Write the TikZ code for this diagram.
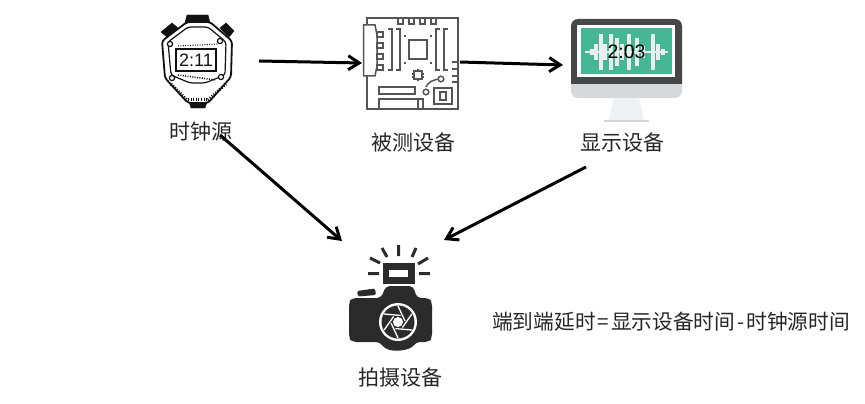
\documentclass[tikz,border=0pt]{standalone}
\usepackage{fontspec}
\setmainfont{Noto Sans CJK SC}
\newfontfamily\latinf{Liberation Sans}
\usetikzlibrary{arrows.meta}
\definecolor{ink}{HTML}{111111}
\definecolor{boardc}{HTML}{555555}
\definecolor{mondark}{HTML}{454748}
\definecolor{monlight}{HTML}{D5D9DB}
\definecolor{monstand}{HTML}{EEF1F3}
\definecolor{monbase}{HTML}{D3D7D9}
\definecolor{mongreen}{HTML}{45B795}
\definecolor{wave}{HTML}{E9EEEE}
\definecolor{camc}{HTML}{2B2B2B}
\tikzset{
 lbl/.style={inner sep=0pt,font=\fontsize{21}{24}\selectfont,text=black!85},
 conn/.style={line width=3pt,black,-{Straight Barb[length=11pt,width=14pt,line width=3pt]}},
 wv/.style={line width=3.4pt,wave},
 brd/.style={line width=1.5pt,boardc,fill=white},
 wat/.style={line width=1.2pt,ink},
}
\begin{document}
\begin{tikzpicture}[x=1pt,y=-1pt]
\useasboundingbox (0,0) rectangle (865,404);
% stopwatch
\filldraw[ink] (185,23)--(187,15)--(208,15)--(210,23)--cycle;
\filldraw[ink] (161,32)--(172,23)--(178,28)--(167,37)--cycle;
\filldraw[ink] (220,28)--(226,23)--(234,31)--(229,37)--cycle;
\filldraw[ink] (189,102)--(207,102)--(205,108)--(191,108)--cycle;
\draw[wat,line width=1.8pt,rounded corners=3pt,fill=white] (187,22)--(210,22)--(232,41)--(231,77)--(208,103)--(188,103)--(165,78)--(162,41)--cycle;
\draw[wat,rounded corners=3pt] (188,27)--(208,27)--(226,42)--(225,75)--(205,83)--(190,83)--(171,75)--(168,42)--cycle;
\draw[wat,line width=1.4pt] (176,49) rectangle (216,71);
\node[inner sep=0pt,font=\latinf\fontsize{18}{18}\selectfont,text=ink] (wtime) at (196,60) {2:11};
\foreach \p in {(170,44),(220,41),(172,78),(221,77)} \draw[wat,fill=white] \p circle (2.6);
\draw[line width=1pt,ink,dash pattern=on 1pt off 1.4pt] (178,46)--(218,44);
\draw[line width=1.5pt,ink,dash pattern=on 1pt off 1.4pt] (178,75)--(216,80);
\draw[line width=3pt,ink,dash pattern=on 1pt off 1.6pt] (171,84)--(187,100);
\draw[line width=3pt,ink,dash pattern=on 1pt off 1.6pt] (188,99)--(208,99);
\draw[line width=3pt,ink,dash pattern=on 1pt off 1.6pt] (208,100)--(226,84);
\node[lbl] (clock) at (201,131.5) {时钟源};
% board
\draw[brd,fill=none] (367,18) rectangle (458,109);
\foreach \x in {398,409,420,431} \draw[brd] (\x,18) rectangle (\x+5,24);
\draw[brd] (363.5,25)--(375,25)--(377,35)--(377,66)--(375,76)--(363.5,76)--cycle;
\foreach \y in {32,43,54,65} \draw[brd] (377,\y) rectangle (383,\y+5);
\draw[brd,fill=none] (388,29)--(392,29)--(392,70)--(388,70);
\draw[brd,fill=none] (396,29)--(400,29)--(400,70)--(396,70);
\draw[brd,fill=none] (440,29)--(436,29)--(436,70)--(440,70);
\draw[brd,fill=none] (448,29)--(444,29)--(444,70)--(448,70);
\draw[brd,fill=none] (409,40) rectangle (427,59);
\foreach \p/\q in {405/35,431/35,405/62,431/62} \draw[brd,fill=none] (\p,\q)--(\p,\q+2);
\draw[brd,fill=none] (414,71) rectangle (422,79);
\draw[brd,fill=none] (418,69)--(418,71) (418,79)--(418,81) (412,74)--(414,74) (412,77)--(414,77) (422,74)--(424,74) (422,77)--(424,77);
\foreach \y in {62,69,76,82} \draw[brd,fill=none] (452,\y)--(458,\y);
\draw[brd,fill=none] (379,87) rectangle (415,94);
\draw[brd,fill=none] (379,109)--(379,99)--(423,99)--(423,109) (418,99)--(418,109);
\draw[brd,fill=none] (426,87)..controls (428,82) and (434,79) .. (441,79);
\draw[brd] (426,92) circle (2.8);
\draw[brd] (441,79) circle (2.8);
\draw[brd,fill=none] (434,88) rectangle (452,104);
\draw[brd,fill=none] (440,92) rectangle (446,100);
\node[lbl] (dut) at (413,143) {被测设备};
% monitor
\fill[monlight,rounded corners=7pt] (571,50) rectangle (682,98);
\fill[monstand] (614,98)--(639,98)--(644,120)--(609,120)--cycle;
\fill[monbase] (604,120) rectangle (649,122);
\fill[mondark] (571,84)--(571,26) arc[start angle=180,end angle=270,radius=7]--(675,19) arc[start angle=270,end angle=360,radius=7]--(682,84)--cycle;
\fill[white] (577,25) rectangle (675,77);
\fill[mongreen] (581,28) rectangle (672,74);
\foreach \x/\h in {587/1,592/3,596/8,601/18,605/8,611/18,617/14,622/8,629/18,637/14,643/6,653/18,658/8,663/3}
  \draw[wv] (\x,52-\h)--(\x,52+\h);
\draw[wv,line width=2pt] (585,52)--(668,52);
\node[inner sep=0pt,font=\latinf\fontsize{19.5}{19.5}\selectfont,text=black] (mtime) at (626.5,52) {2:03};
\node[lbl] (disp) at (622,143) {显示设备};
% camera
\draw[camc,line width=3pt]
 (368,273.5)--(379,273.5) (419,273.5)--(430,273.5)
 (370,258)--(380,263) (428,258)--(418,264)
 (382,248)--(387,257) (416,248)--(412,257)
 (398.5,245)--(398.5,256);
\fill[camc] (383,263) rectangle (415,284);
\fill[white] (389,270) rectangle (408,277);
\fill[camc,rounded corners=1.5pt] (357,291)--(375,288.5)--(376,295)--(358,296.5)--cycle;
\fill[camc,rounded corners=4pt] (349,302)--(352,298)--(381,298)--(386,286)--(413,286)--(417,298)--(429,298)--(432,302)--(432,338)--(429,342)--(416,342)..controls (410,351) and (388,354) .. (380,342)--(352,342)--(349,338)--cycle;
\fill[white] (398,322) circle (19);
\fill[camc] (398,322) circle (16.5);
\foreach \a in {0,60,...,300}
 \draw[white,line width=1.3pt,rotate around={\a:(398,322)}] (398,306)--(405,321);
\fill[white] (398,322) circle (5);
\node[lbl] (cam) at (400,378) {拍摄设备};
% formula
\node[lbl,anchor=west,font=\fontsize{20.7}{24}\selectfont] (formula) at (492,322) {端到端延时\hspace{2pt}=\hspace{2pt}显示设备时间\hspace{2pt}-\hspace{2pt}时钟源时间};
% connectors
\coordinate (a1) at (259,61); \coordinate (b1) at (362,63);
\coordinate (a2) at (460,62); \coordinate (b2) at (563,65);
\coordinate (a3) at (220,135); \coordinate (b3) at (342,241);
\coordinate (a4) at (586,167); \coordinate (b4) at (444,240);
\draw[conn] (a1)--(b1);
\draw[conn] (a2)--(b2);
\draw[conn] (a3)--(b3);
\draw[conn] (a4)--(b4);
\end{tikzpicture}
\end{document}
